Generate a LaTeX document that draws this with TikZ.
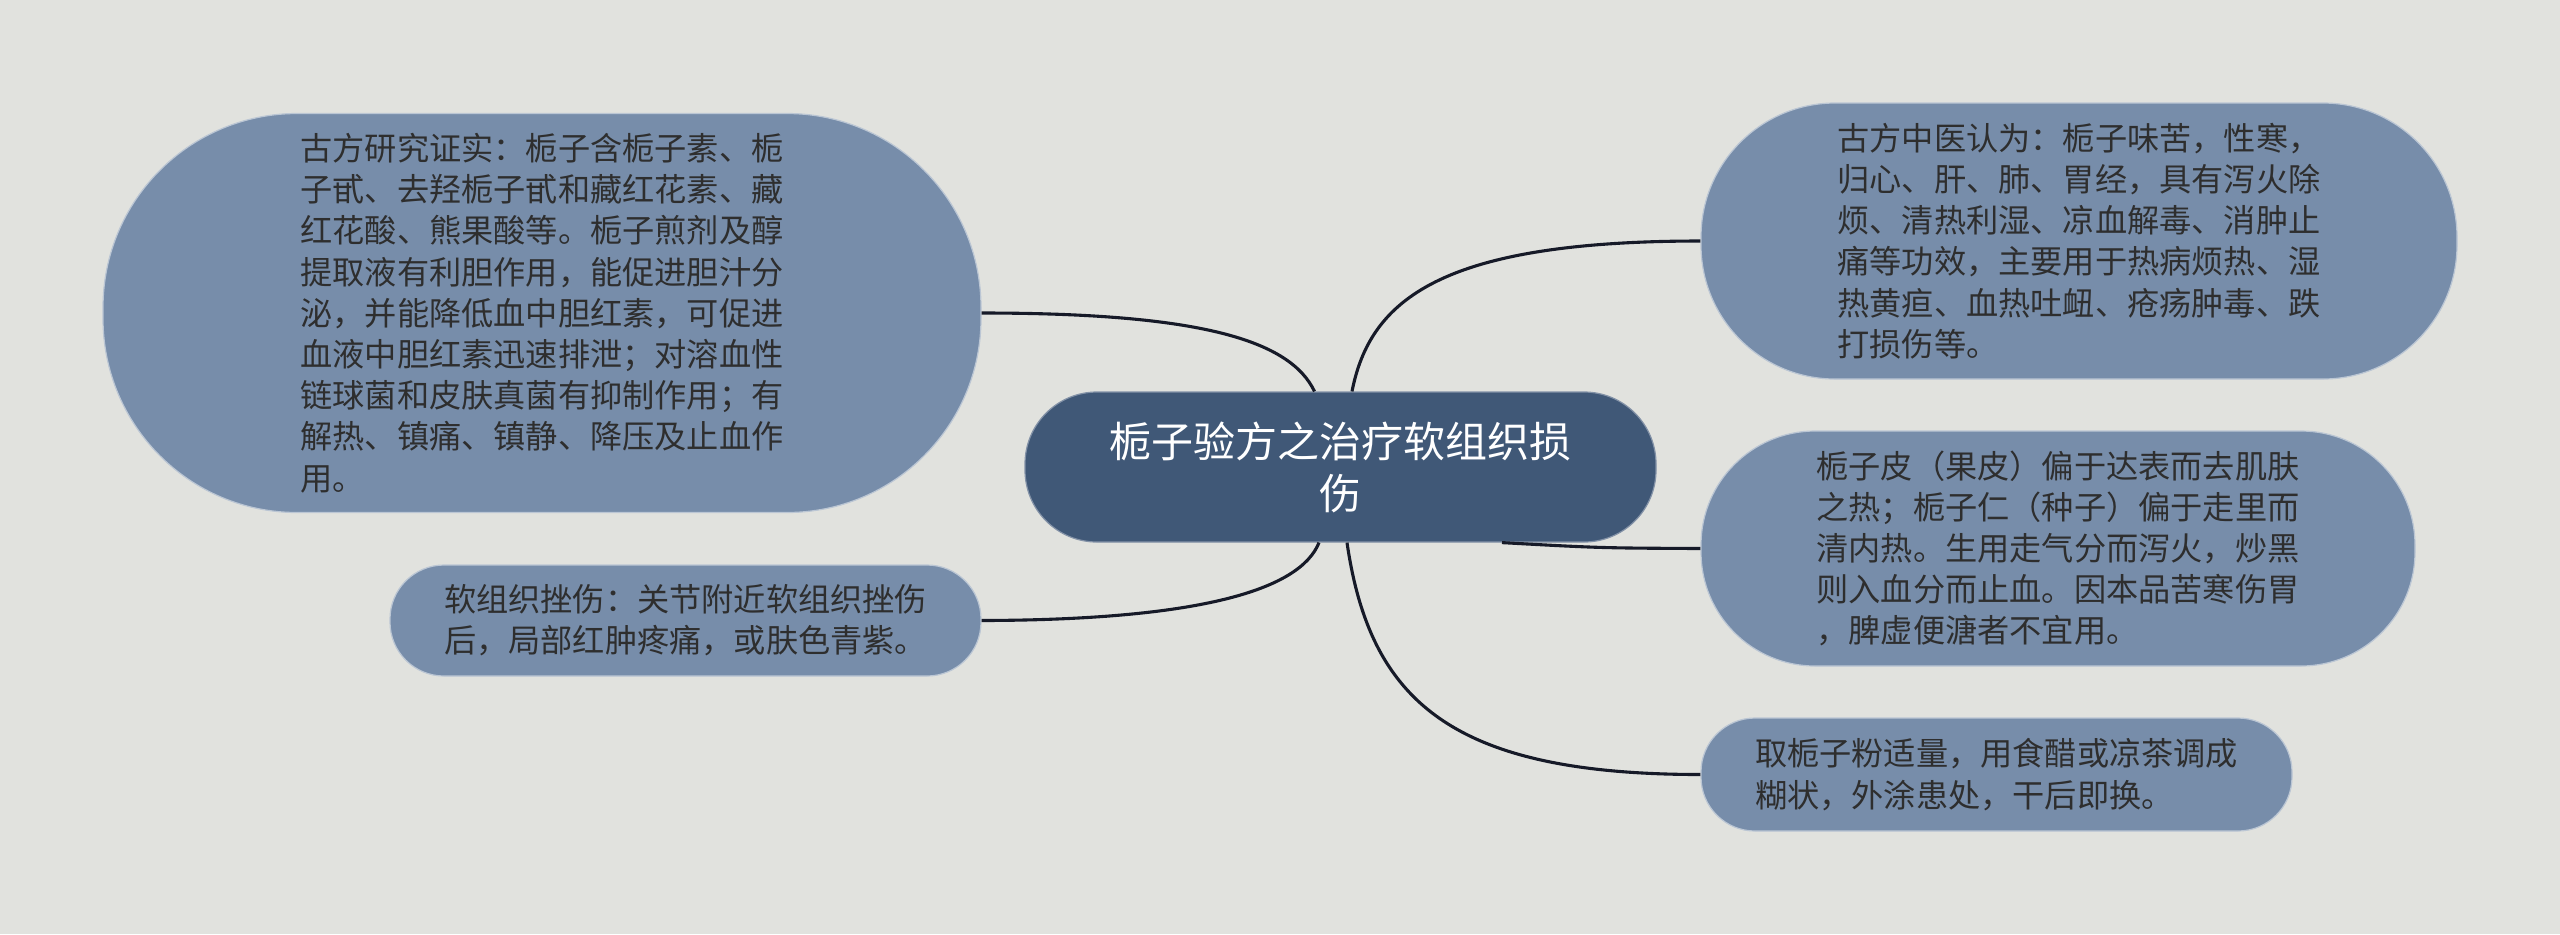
\documentclass[tikz,border=0pt]{standalone}
\usepackage{fontspec}
\usepackage{tikz}
\setmainfont{Noto Sans CJK SC}
\definecolor{bgcol}{HTML}{E1E2DE}
\definecolor{leafcol}{HTML}{778DAA}
\definecolor{rootcol}{HTML}{405877}
\definecolor{linecol}{HTML}{161A28}
\definecolor{txtcol}{HTML}{2E2E2E}
\tikzstyle{leafbox} = [draw=white!50!leafcol, fill=leafcol, line width=0.6pt,
    rectangle, inner sep=0pt, text=txtcol, align=left,
    font=\fontsize{16.1pt}{20.6pt}\selectfont]
\tikzstyle{rootbox} = [draw=white!35!rootcol, fill=rootcol, line width=0.6pt,
    rectangle, inner sep=0pt, text=white, align=center,
    font=\fontsize{21pt}{26pt}\selectfont]
\tikzstyle{branch} = [draw=linecol, line width=1.55pt]

\begin{document}
\begin{tikzpicture}[x=0.5pt,y=-0.5pt]
\useasboundingbox (0,0) rectangle (2560,934);
\fill[bgcol] (0,0) rectangle (2560,934);

\node [rootbox, minimum width=315.5pt, minimum height=75pt, rounded corners=36pt] (root) at (1340.5,467)
    {栀子验方之治疗软组织损\\伤};

\node [leafbox, minimum width=439pt, minimum height=199.5pt, rounded corners=97pt] (research) at (542,313)
    {古方研究证实：栀子含栀子素、栀\\
     子甙、去羟栀子甙和藏红花素、藏\\
     红花酸、熊果酸等。栀子煎剂及醇\\
     提取液有利胆作用，能促进胆汁分\\
     泌，并能降低血中胆红素，可促进\\
     血液中胆红素迅速排泄；对溶血性\\
     链球菌和皮肤真菌有抑制作用；有\\
     解热、镇痛、镇静、降压及止血作\\
     用。};
\node [leafbox, minimum width=295.5pt, minimum height=55.5pt, rounded corners=27pt] (injury) at (685.5,620.5)
    {软组织挫伤：关节附近软组织挫伤\\
     后，局部红肿疼痛，或肤色青紫。};
\node [leafbox, minimum width=378pt, minimum height=138pt, rounded corners=67pt] (tcm) at (2079,241)
    {古方中医认为：栀子味苦，性寒，\\
     归心、肝、肺、胃经，具有泻火除\\
     烦、清热利湿、凉血解毒、消肿止\\
     痛等功效，主要用于热病烦热、湿\\
     热黄疸、血热吐衄、疮疡肿毒、跌\\
     打损伤等。};
\node [leafbox, minimum width=357pt, minimum height=117.5pt, rounded corners=57pt] (peel) at (2058,548.5)
    {栀子皮（果皮）偏于达表而去肌肤\\
     之热；栀子仁（种子）偏于走里而\\
     清内热。生用走气分而泻火，炒黑\\
     则入血分而止血。因本品苦寒伤胃\\
     ，脾虚便溏者不宜用。};
\node [leafbox, minimum width=295.5pt, minimum height=56.5pt, rounded corners=27pt] (usage) at (1996.5,774.5)
    {取栀子粉适量，用食醋或凉茶调成\\
     糊状，外涂患处，干后即换。};

\draw[branch] (research.east) .. controls (1200,313) and (1290,340) .. ([xshift=-13pt]root.north);
\draw[branch] (injury.east) .. controls (1200,620) and (1300,590) .. ([xshift=-10.75pt]root.south);
\draw[branch] ([xshift=5.75pt]root.north) .. controls (1370,300) and (1440,241) .. (tcm.west);
\draw[branch] ([xshift=80.75pt]root.south) .. controls (1600,548) .. (peel.west);
\draw[branch] ([xshift=3.25pt]root.south) .. controls (1370,700) and (1450,774.5) .. (usage.west);
\end{tikzpicture}
\end{document}
